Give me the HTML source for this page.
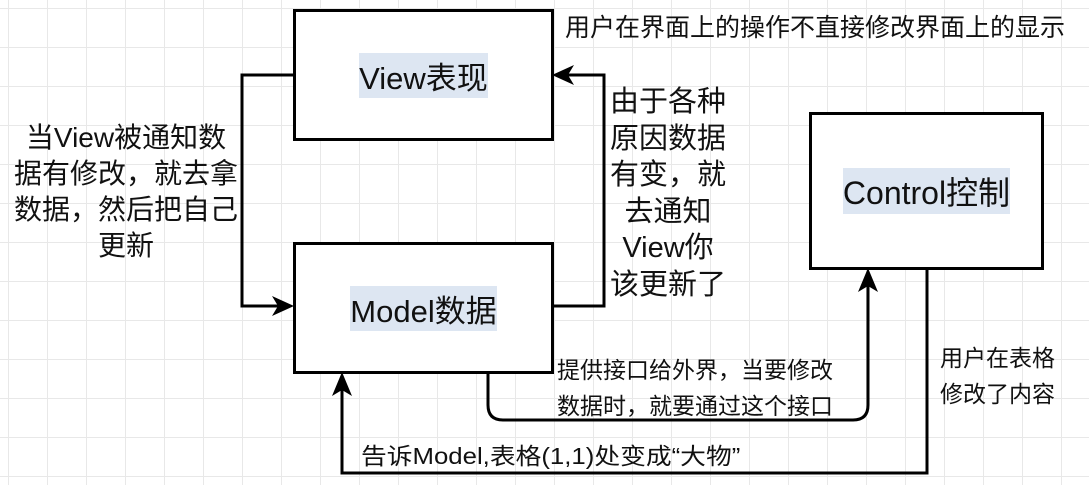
<!DOCTYPE html>
<html><head><meta charset="utf-8"><style>
body{margin:0;width:1089px;height:485px;overflow:hidden;background:#fff;
background-image:linear-gradient(#e8e8e8 1px,transparent 1px),linear-gradient(90deg,#e8e8e8 1px,transparent 1px);background-size:39px 39px;background-position:8px 8px;
font-family:"Liberation Sans","Noto Sans CJK SC",sans-serif;position:relative}
.box{position:absolute;border:3px solid #000;background:#fff;box-sizing:border-box;display:flex;align-items:center;justify-content:center;font-size:31px;color:#111}
.box span{background:#dde6f2}
.t{position:absolute;color:#111;white-space:nowrap}
</style></head><body>
<svg width="1089" height="485" style="position:absolute;left:0;top:0">
<g fill="none" stroke="#000" stroke-width="3">
<polyline points="294,75 242,75 242,306 280,306"/>
<polyline points="552,306 604,306 604,75 566,75"/>
<path d="M488,372 V405 Q488,420 503,420 H853 Q868,420 868,405 V282"/>
<polyline points="927,268 927,473 342,473 342,386"/>
</g>
<g fill="#000">
<path d="M294,306 L272,296 L278,306 L272,316Z"/>
<path d="M552,75 L574,65 L568,75 L574,85Z"/>
<path d="M868,268 L858,292 L868,286 L878,292Z"/>
<path d="M342,372 L332,396 L342,390 L352,396Z"/>
</g>
</svg>
<div class="box" style="left:293px;top:9px;width:261px;height:132px"><span>View表现</span></div>
<div class="box" style="left:293px;top:242px;width:261px;height:132px"><span>Model数据</span></div>
<div class="box" style="left:809px;top:112px;width:235px;height:158px"><span style="font-size:32px">Control控制</span></div>
<div class="t" style="left:565px;top:8px;font-size:25px">用户在界面上的操作不直接修改界面上的显示</div>
<div class="t" style="left:6px;top:120px;font-size:28px;line-height:36px;text-align:center;width:240px">当View被通知数<br>据有修改，就去拿<br>数据，然后把自己<br>更新</div>
<div class="t" style="left:604px;top:84px;font-size:29px;line-height:36.5px;text-align:center;width:128px">由于各种<br>原因数据<br>有变，就<br>去通知<br>View你<br>该更新了</div>
<div class="t" style="left:557px;top:352px;font-size:23px;line-height:36px">提供接口给外界，当要修改<br>数据时，就要通过这个接口</div>
<div class="t" style="left:940px;top:340px;font-size:23px;line-height:36px">用户在表格<br>修改了内容</div>
<div class="t" style="left:361px;top:437px;font-size:23px;transform:scaleX(1.12);transform-origin:left">告诉Model,表格(1,1)处变成“大物”</div>
</body></html>
